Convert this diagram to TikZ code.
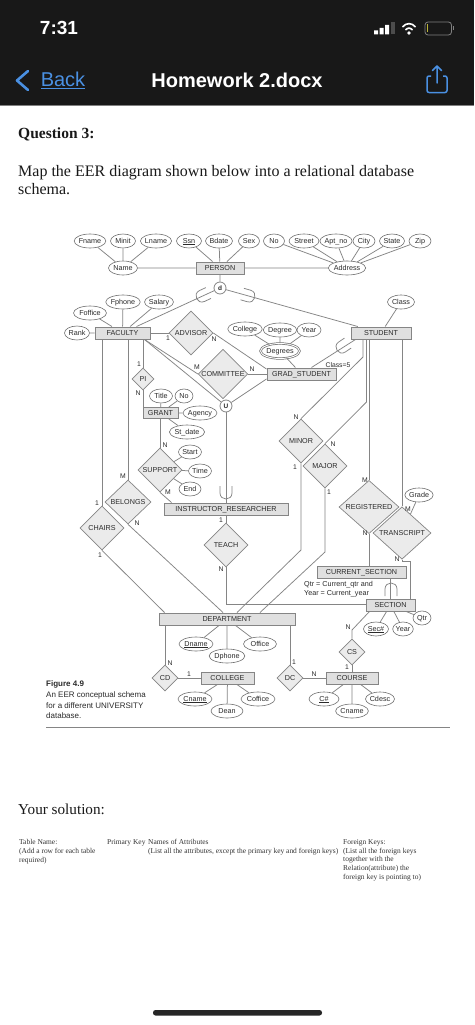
\documentclass[tikz,border=0pt]{standalone}
\usepackage{fontspec}
\setmainfont{Liberation Serif}
\newfontfamily\sansf{Liberation Sans}
\usetikzlibrary{shapes.geometric,calc}
\definecolor{bar}{HTML}{181818}
\definecolor{iosblue}{HTML}{4A90E2}
\definecolor{inktext}{HTML}{2A2A2A}
\definecolor{linegray}{HTML}{858585}
\definecolor{boxfill}{HTML}{E0E0E0}
\definecolor{diafill}{HTML}{EBEBEB}
\newcommand\keyattr[1]{\setbox0\hbox{#1}\leavevmode\rlap{\rule[-1pt]{\wd0}{.4pt}}\box0}
\tikzset{
  x=1pt,y=-1pt,
  conn/.style={draw=linegray,line width=.75pt},
  er/.style={font=\sansf\fontsize{7.2}{8}\selectfont,text=inktext,inner sep=0pt},
  fixedtext/.style={text height=5.2pt,text depth=1.2pt},
  attr/.style={er,fixedtext,ellipse,draw=linegray!85!black,line width=.6pt,fill=white,minimum height=14pt},
  ent/.style={er,fixedtext,rectangle,draw=linegray,line width=1pt,fill=boxfill,minimum height=12pt},
  rel/.style={er,fixedtext,diamond,draw=linegray,line width=.7pt,fill=diafill,minimum width=44pt,minimum height=44pt},
  smallrel/.style={rel,minimum width=26pt,minimum height=26pt},
  circ/.style={er,circle,draw=linegray,line width=.8pt,fill=white,minimum size=12pt,font=\sansf\bfseries\fontsize{6.5}{8}\selectfont},
  card/.style={er,font=\sansf\fontsize{6.8}{8}\selectfont},
  page/.style={inner sep=0pt,anchor=base west,text=black!90},
  tiny/.style={inner sep=0pt,anchor=north west,align=left,text=black!80,font=\fontsize{7.45}{8.65}\selectfont},
  fig/.style={inner sep=0pt,anchor=base west,text=inktext,font=\sansf\fontsize{8}{10}\selectfont},
  subsetmark/.pic={\draw[conn] (-6,-7) -- (-6,0) .. controls (-6,8) and (6,8) .. (6,0) -- (6,-7);},
}
\begin{document}
\begin{tikzpicture}
\useasboundingbox (0,0) rectangle (474,1025);
\fill[white] (0,0) rectangle (474,1025);
% phone header
\fill[bar] (0,0) rectangle (474,105);
\draw[gray,line width=.5pt] (0,105.3) -- (474,105.3);
\node[inner sep=0pt,text=white,font=\sansf\bfseries\fontsize{19}{22}\selectfont] (clock) at (59,28) {7:31};
\node[inner sep=0pt,text=iosblue,font=\sansf\fontsize{20}{24}\selectfont] (back) at (63,80) {\underline{Back}};
\node[inner sep=0pt,text=white,font=\sansf\bfseries\fontsize{20}{24}\selectfont] (title) at (237,80) {Homework 2.docx};
\draw[iosblue,line width=2.6pt,line cap=round,line join=round] (28,71) -- (17,80.5) -- (28,90);
\draw[iosblue,line width=1.5pt,line join=round,rounded corners=2pt] (431,76) -- (427,76) -- (427,92.5) -- (447,92.5) -- (447,76) -- (443,76);
\draw[iosblue,line width=1.5pt,line cap=round,line join=round] (437,83) -- (437,66.5) (432.5,70.5) -- (437,66) -- (441.5,70.5);
\fill[white] (374,30.5) rectangle (378,34.5) (379.5,28) rectangle (383.5,34.5) (385,25) rectangle (389,34.5);
\fill[gray!60!black] (391,22.5) rectangle (395,34.5);
\draw[white,line width=1.6pt] (402.5,27) .. controls (406,22.5) and (412,22.5) .. (415.5,27) (405.5,30) .. controls (407.5,27.5) and (410.5,27.5) .. (412.5,30);
\fill[white] (409,33) circle (1.8);
\draw[gray,line width=.8pt,rounded corners=3pt] (425,22) rectangle (451.5,35);
\fill[gray] (452.5,26.5) rectangle (453.5,30.5);
\fill[yellow!70!black] (427,24.5) rectangle (428.3,32.5);
% document text
\node[page,font=\bfseries\fontsize{15.5}{18}\selectfont] (q3) at (18,138) {Question 3:};
\node[page,font=\fontsize{16}{18}\selectfont] (map1) at (18,176) {Map the EER diagram shown below into a relational database};
\node[page,font=\fontsize{16}{18}\selectfont] (map2) at (18,194) {schema.};
\node[page,font=\fontsize{15.2}{18}\selectfont] (sol) at (18,814) {Your solution:};
\node[tiny] (t1) at (19,839.5) {Table Name:\\(Add a row for each table\\required)};
\node[tiny] (t2) at (107,839.5) {Primary Key};
\node[tiny] (t3) at (148,839.5) {Names of Attributes\\(List all the attributes, except the primary key and foreign keys)};
\node[tiny] (t4) at (343,839.5) {Foreign Keys:\\(List all the foreign keys\\together with the\\Relation(attribute) the\\foreign key is pointing to)};
\fill[black!85,rounded corners=2.5pt] (153,1010) rectangle (322,1015.5);
% coordinates for bends
\coordinate (mnA) at (363,357);
\coordinate (mjA) at (366.5,402);
\coordinate (mnB) at (301,550);
\coordinate (mjB) at (325,552);
\coordinate (tcA) at (402,561);
\coordinate (tcB) at (410,561);
\coordinate (teachA) at (226,604);
\coordinate (csA) at (352,630);
% entities
\node[ent,minimum width=48pt] (person) at (220,268) {PERSON};
\node[ent,minimum width=55pt] (faculty) at (122.5,333) {FACULTY};
\node[ent,minimum width=60pt] (student) at (381,333) {STUDENT};
\node[ent,minimum width=69pt] (grad) at (301.5,374) {GRAD\_STUDENT};
\node[ent,minimum width=35pt,minimum height=11pt] (grant) at (160.5,413) {GRANT};
\node[ent,minimum width=124pt] (instr) at (226,509) {INSTRUCTOR\_RESEARCHER};
\node[ent,minimum width=89pt] (cursec) at (361.5,572) {CURRENT\_SECTION};
\node[ent,minimum width=49pt] (section) at (390.5,605) {SECTION};
\node[ent,minimum width=136pt] (dept) at (227,619) {DEPARTMENT};
\node[ent,minimum width=53pt] (college) at (227.5,678) {COLLEGE};
\node[ent,minimum width=52pt] (course) at (352,678) {COURSE};
% relationships
\node[rel] (advisor) at (191,333) {ADVISOR};
\node[rel,minimum width=46pt] (committee) at (223,374) {COMMITTEE};
\node[smallrel,minimum width=22pt,minimum height=22pt] (pi) at (143,379) {PI};
\node[rel] (support) at (160,470) {SUPPORT};
\node[rel,minimum width=46pt] (belongs) at (128,502) {BELONGS};
\node[rel] (chairs) at (102,528) {CHAIRS};
\node[rel] (teach) at (226,545) {TEACH};
\node[rel] (minor) at (301,441) {MINOR};
\node[rel] (major) at (325,466) {MAJOR};
\node[rel,minimum width=60pt] (registered) at (369,507) {REGISTERED};
\node[rel,minimum width=58pt] (transcript) at (402,533) {TRANSCRIPT};
\node[smallrel] (cd) at (165,678) {CD};
\node[smallrel] (dc) at (290,678) {DC};
\node[smallrel] (cs) at (352,652) {CS};
\node[circ] (d) at (220,288) {d};
\node[circ] (u) at (226,406) {U};
% attributes
\node[attr,minimum width=31pt] (fname) at (90,241) {Fname};
\node[attr,minimum width=25pt] (minit) at (123,241) {Minit};
\node[attr,minimum width=30pt] (lname) at (156,241) {Lname};
\node[attr,minimum width=25pt] (ssn) at (189,241) {\keyattr{Ssn}};
\node[attr,minimum width=27pt] (bdate) at (219,241) {Bdate};
\node[attr,minimum width=21pt] (sex) at (249,241) {Sex};
\node[attr,minimum width=21pt] (no) at (274,241) {No};
\node[attr,minimum width=30pt] (street) at (304,241) {Street};
\node[attr,minimum width=31pt] (aptno) at (336,241) {Apt\_no};
\node[attr,minimum width=22pt] (city) at (364,241) {City};
\node[attr,minimum width=25pt] (state) at (392,241) {State};
\node[attr,minimum width=22pt] (zip) at (420,241) {Zip};
\node[attr,minimum width=29pt] (name) at (123,268) {Name};
\node[attr,minimum width=33pt] (address) at (347,268) {Address};
\node[attr,minimum width=32pt] (fphone) at (123,302) {Fphone};
\node[attr,minimum width=27pt] (salary) at (159,302) {Salary};
\node[attr,minimum width=33pt] (foffice) at (90,313) {Foffice};
\node[attr,minimum width=25pt] (rank) at (77,333) {Rank};
\node[attr,minimum width=27pt] (class) at (401,302) {Class};
\node[attr,minimum width=30pt] (college1) at (245,329) {College};
\node[attr,minimum width=29pt] (degree) at (280,330) {Degree};
\node[attr,minimum width=24pt] (year1) at (309,330) {Year};
\node[attr,double,double distance=.9pt,line width=.7pt,minimum width=39pt,minimum height=15pt] (degrees) at (280,351) {Degrees};
\node[attr,minimum width=23pt] (gtitle) at (161,396) {Title};
\node[attr,minimum width=18pt] (gno) at (184,396) {No};
\node[attr,minimum width=33pt] (agency) at (200,413) {Agency};
\node[attr,minimum width=33pt] (stdate) at (187,432) {St\_date};
\node[attr,minimum width=23pt] (start) at (190,452) {Start};
\node[attr,minimum width=23pt] (time) at (200,471) {Time};
\node[attr,minimum width=22pt] (end) at (190,489) {End};
\node[attr,minimum width=25pt] (grade) at (419,495) {Grade};
\node[attr,minimum width=18pt] (qtr) at (422,618) {Qtr};
\node[attr,minimum width=25pt] (secno) at (376,629) {\keyattr{Sec\#}};
\node[attr,minimum width=20pt] (year2) at (403,629) {Year};
\node[attr,minimum width=34pt] (dname) at (196,644) {\keyattr{Dname}};
\node[attr,minimum width=34pt] (dphone) at (227,656) {Dphone};
\node[attr,minimum width=33pt] (office) at (260,644) {Office};
\node[attr,minimum width=34pt] (cname) at (195,699) {\keyattr{Cname}};
\node[attr,minimum width=32pt] (dean) at (227,711) {Dean};
\node[attr,minimum width=34pt] (coffice) at (258,699) {Coffice};
\node[attr,minimum width=30pt] (cno) at (324,699) {\keyattr{C\#}};
\node[attr,minimum width=30pt] (cname2) at (352,711) {Cname};
\node[attr,minimum width=29pt] (cdesc) at (380,699) {Cdesc};
% connectors
\draw[conn] (name) -- (fname) (name) -- (minit) (name) -- (lname) (name) -- (person);
\draw[conn] (person) -- (ssn) (person) -- (bdate) (person) -- (sex) (person) -- (address);
\draw[conn] (address) -- (no) (address) -- (street) (address) -- (aptno) (address) -- (city) (address) -- (state) (address) -- (zip);
\draw[conn] (person) -- (d) (d) -- (faculty) (d) -- (student);
\draw[conn] (faculty) -- (rank) (faculty) -- (foffice) (faculty) -- (fphone) (faculty) -- (salary) (student) -- (class);
\draw[conn] (faculty) -- (advisor);
\draw[conn] (advisor.east) -- ([yshift=5pt]grad.west);
\draw[conn] ([xshift=-6pt]faculty.south east) -- (committee.west);
\draw[conn] (committee.east) -- (grad.west);
\draw[conn] ([xshift=-6pt]faculty.south east) -- (u);
\draw[conn] ([yshift=-5pt]grad.west) -- (u);
\draw[conn] (pi.north |- faculty.south) -- (pi.north);
\draw[conn] (pi.south) -- (pi.south |- grant.north);
\draw[conn] (chairs.north |- faculty.south) -- (chairs.north);
\draw[conn] (belongs.north |- faculty.south) -- (belongs.north);
\draw[conn] (degrees) -- (college1) (degrees) -- (degree) (degrees) -- (year1) (degrees) -- (grad);
\draw[conn] ([xshift=5pt]student.south west) -- ([xshift=10pt]grad.north);
\draw[conn] (grant) -- (gtitle) (grant) -- (gno) (grant) -- (agency) (grant) -- (stdate);
\draw[conn] (support.north |- grant.south) -- (support.north);
\draw[conn] (support) -- (start) (support) -- (time) (support) -- (end);
\draw[conn] (support.south) -- ([xshift=8pt]instr.north west);
\draw[conn] (u) -- (u |- instr.north);
\draw[conn] (teach.north |- instr.south) -- (teach.north);
\draw[conn] (teach.south) -- (teachA) -- (teachA -| section.west);
\draw[conn] (belongs.south) -- ([xshift=-4pt]dept.north);
\draw[conn] (chairs.south) -- ([xshift=6pt]dept.north west);
\draw[conn] (mnA |- student.south) -- (mnA) -- (minor.north);
\draw[conn] (mjA |- student.south) -- (mjA) -- (major.north);
\draw[conn] (registered.north |- student.south) -- (registered.north);
\draw[conn] (transcript.north |- student.south) -- (transcript.north);
\draw[conn] (transcript) -- (grade);
\draw[conn] (registered.south) -- (registered.south |- cursec.north);
\draw[conn] (transcript.south) -- (tcA) -- (tcB) -- (tcB |- section.north);
\draw[conn] (section.north |- cursec.south) -- (section.north);
\draw[conn] (section) -- (qtr) (section) -- (secno) (section) -- (year2);
\draw[conn] ([xshift=4pt]section.south west) -- (csA) -- (cs.north);
\draw[conn] (cs.south) -- (course.north);
\draw[conn] (minor.south) -- (mnB) -- ([xshift=10pt]dept.north);
\draw[conn] (major.south) -- (mjB) -- ([xshift=33pt]dept.north);
\draw[conn] (cd.north |- dept.south) -- (cd.north);
\draw[conn] (dc.north |- dept.south) -- (dc.north);
\draw[conn] (dept) -- (dname) (dept) -- (dphone) (dept) -- (office);
\draw[conn] (cd) -- (college) (dc) -- (course);
\draw[conn] (college) -- (cname) (college) -- (dean) (college) -- (coffice);
\draw[conn] (course) -- (cno) (course) -- (cname2) (course) -- (cdesc);
% subset marks
\pic[rotate=-65] at (202,296) {subsetmark};
\pic[rotate=74] at (249,296) {subsetmark};
\pic[rotate=-56] at (342,347) {subsetmark};
\pic at (226,493) {subsetmark};
\pic[rotate=180] at (391,589) {subsetmark};
% cardinalities
\node[card] (c1) at (168,338) {1};
\node[card] (c2) at (214,339) {N};
\node[card] (c3) at (197,367) {M};
\node[card] (c4) at (252,369) {N};
\node[card] (c5) at (139,364) {1};
\node[card] (c6) at (138,393) {N};
\node[card] (c7) at (165,445) {N};
\node[card] (c8) at (123,476) {M};
\node[card] (c9) at (97,503) {1};
\node[card] (c10) at (137,523) {N};
\node[card] (c11) at (100,555) {1};
\node[card] (c12) at (168,492) {M};
\node[card] (c13) at (221,520) {1};
\node[card] (c14) at (221,569) {N};
\node[card] (c15) at (296,417) {N};
\node[card] (c16) at (295,467) {1};
\node[card] (c17) at (333,444) {N};
\node[card] (c18) at (329,492) {1};
\node[card] (c19) at (365,480) {M};
\node[card] (c20) at (365,533) {N};
\node[card] (c21) at (408,509) {M};
\node[card] (c22) at (397,559) {N};
\node[card] (c23) at (348,627) {N};
\node[card] (c24) at (347,667) {1};
\node[card] (c25) at (314,674) {N};
\node[card] (c26) at (294,662) {1};
\node[card] (c27) at (170,663) {N};
\node[card] (c28) at (189,674) {1};
\node[card] (class5) at (338,365) {Class=5};
\node[er,anchor=west] (qn1) at (304,585) {Qtr = Current\_qtr and};
\node[er,anchor=west] (qn2) at (304,594) {Year = Current\_year};
% figure caption
\node[fig,font=\sansf\bfseries\fontsize{8}{10}\selectfont] (fg0) at (46,686) {Figure 4.9};
\node[fig] (fg1) at (46,697) {An EER conceptual schema};
\node[fig] (fg2) at (46,708) {for a different UNIVERSITY};
\node[fig] (fg3) at (46,718.5) {database.};
\coordinate (ruleL) at (46,727);
\coordinate (ruleR) at (450,727);
\draw[linegray,line width=.8pt] (ruleL) -- (ruleR);
\end{tikzpicture}
\end{document}
